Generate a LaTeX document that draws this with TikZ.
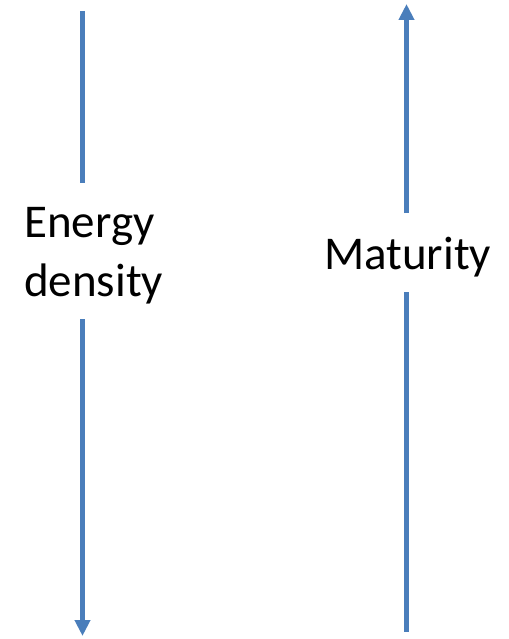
\documentclass[tikz,border=0pt]{standalone}
\usepackage{fontspec}
\setmainfont{Carlito}
\usetikzlibrary{arrows.meta}
\definecolor{lineblue}{HTML}{4A7EBB}
\tikzset{
  axis/.style={draw=lineblue, line width=4.5pt},
  tip/.style={-{Triangle[width=15pt,length=16pt]}},
  lbl/.style={font=\fontsize{47}{59}\selectfont, inner sep=0pt}
}
\begin{document}
\begin{tikzpicture}[x=1pt,y=-1pt]
\useasboundingbox (0,0) rectangle (508,639);
% left axis
\coordinate (ltop) at (82.5,11);
\coordinate (lgap1) at (82.5,183);
\coordinate (lgap2) at (82.5,319);
\coordinate (lbot) at (82.5,636);
\node[lbl, align=left, anchor=base west] (energy) at (24,296) {Energy\\density};
\draw[axis] (ltop) -- (lgap1);
\draw[axis, tip] (lgap2) -- (lbot);
% right axis
\coordinate (rtop) at (406.5,4);
\coordinate (rgap1) at (406.5,213);
\coordinate (rgap2) at (406.5,292);
\coordinate (rbot) at (406.5,632);
\node[lbl, anchor=base west] (maturity) at (324,269) {Maturity};
\draw[axis, tip] (rgap1) -- (rtop);
\draw[axis] (rgap2) -- (rbot);
\end{tikzpicture}
\end{document}
